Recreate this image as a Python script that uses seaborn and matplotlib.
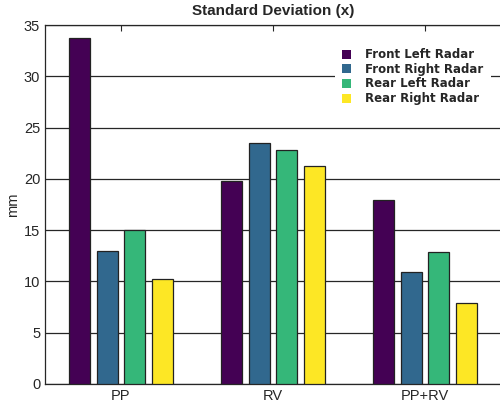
import matplotlib
matplotlib.use("Agg")
import matplotlib.pyplot as plt
import seaborn as sns
import pandas as pd

categories = ["PP", "RV", "PP+RV"]
sensors = ["Front Left Radar", "Front Right Radar", "Rear Left Radar", "Rear Right Radar"]
front_left = [33.7, 19.8, 17.9]
front_right = [13.0, 23.5, 10.9]
rear_left = [15.05, 22.85, 12.85]
rear_right = [10.25, 21.3, 7.9]
colors = ["#440154", "#31688e", "#35b779", "#fde725"]

rows = []
for name, vals in zip(sensors, [front_left, front_right, rear_left, rear_right]):
    for cat, v in zip(categories, vals):
        rows.append({"case": cat, "sensor": name, "value": v})
df = pd.DataFrame(rows)

sns.set_style("white")
plt.rcParams["font.family"] = ["Liberation Sans", "DejaVu Sans"]

fig = plt.figure(figsize=(5.0, 4.12), dpi=100)
ax = fig.add_axes([0.09, 0.068, 0.912, 0.871])

sns.barplot(data=df, x="case", y="value", hue="sensor", order=categories,
            hue_order=sensors, palette=colors, saturation=1, width=0.72, gap=0.23,
            edgecolor="#222222", linewidth=0.9, ax=ax, zorder=3)

ax.set_xlim(-0.5, 2.5)
ax.set_ylim(0, 35)
ax.set_yticks(range(0, 36, 5))
ax.yaxis.grid(True, color="#262626", linewidth=0.9)
ax.set_axisbelow(True)
for s in ax.spines.values():
    s.set_visible(True)
    s.set_color("#262626")
    s.set_linewidth(0.9)
ax.tick_params(axis="both", direction="in", labelsize=10.5, colors="#262626",
               labelcolor="#262626", length=4, width=0.8, top=True)
ax.tick_params(axis="y", left=False)
ax.set_xlabel("")
ax.set_ylabel("mm", fontsize=10.5, color="#262626", labelpad=3)
ax.set_title("Standard Deviation (x)", fontsize=11, fontweight="bold", pad=7)

leg = ax.legend(loc="upper right", bbox_to_anchor=(0.99, 0.972), frameon=True,
                fancybox=False, facecolor="white", edgecolor="none", framealpha=1,
                handlelength=0.8, handleheight=0.8, handletextpad=1.2,
                labelspacing=0.14, borderpad=0.6,
                prop={"family": "DejaVu Sans", "weight": "bold", "size": 8.5})
for h in leg.legend_handles:
    h.set_edgecolor("none")
leg.set_zorder(5)

fig.savefig("out.png", dpi=100)
